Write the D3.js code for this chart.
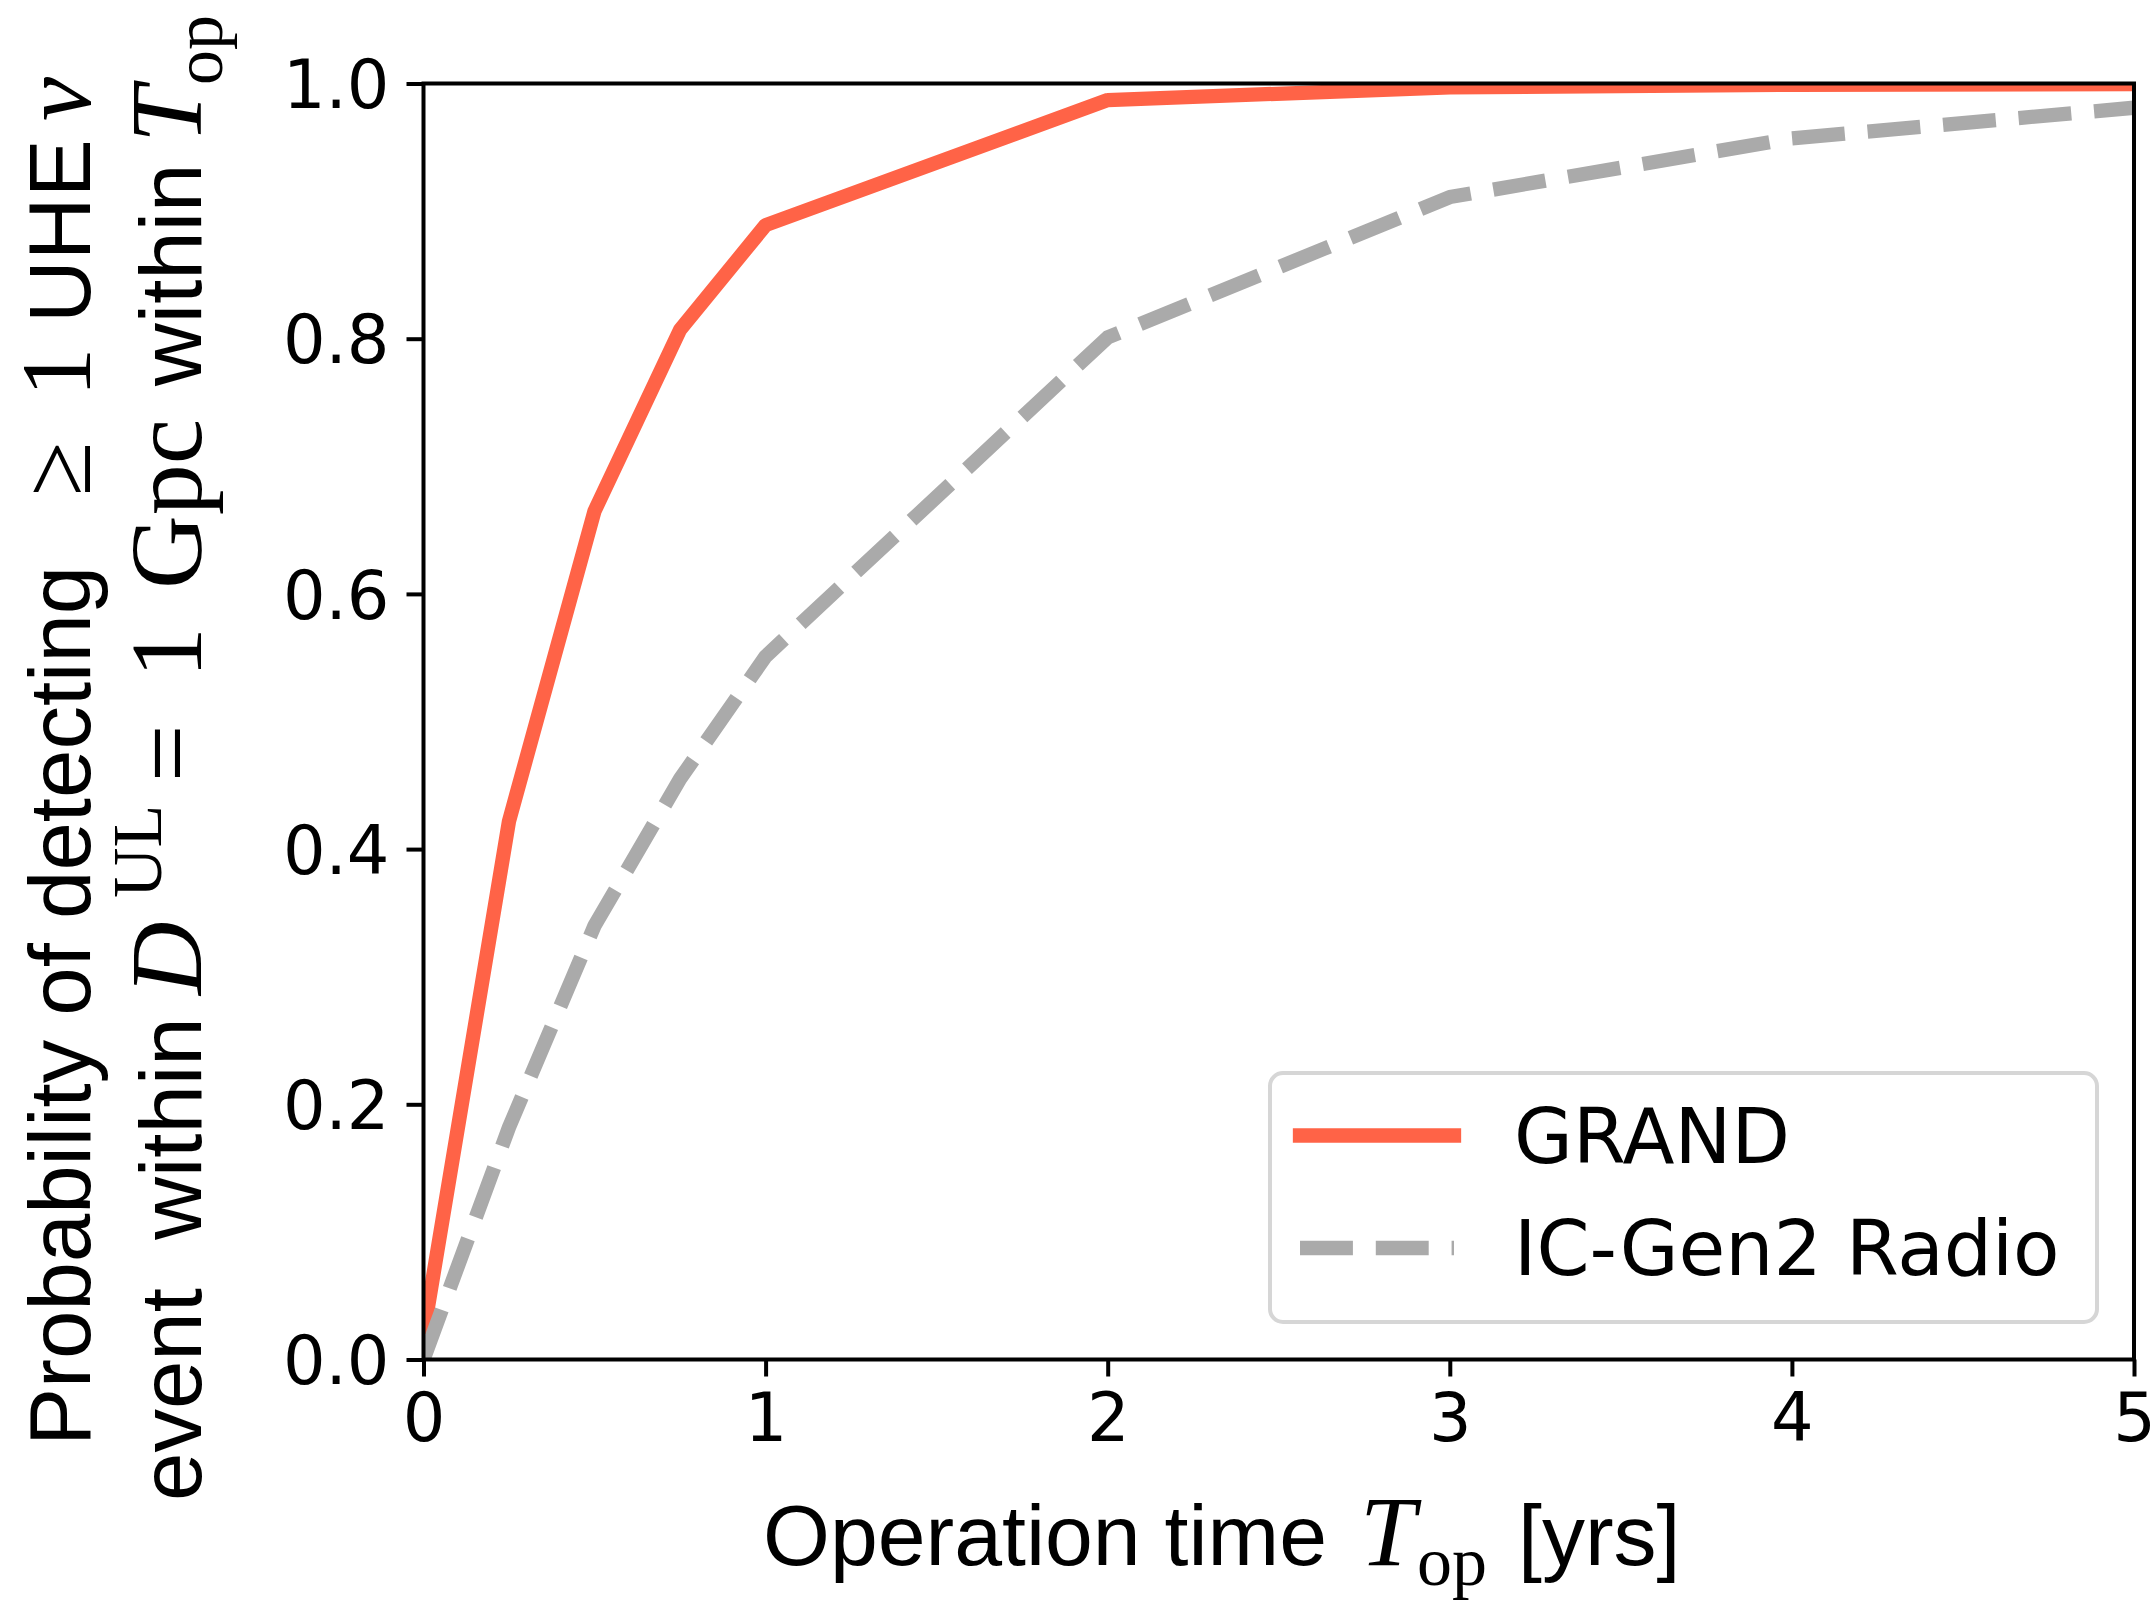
<!DOCTYPE html>
<html>
<head>
<meta charset="utf-8">
<script src="https://cdn.jsdelivr.net/npm/d3@7"></script>
<style>
  body { margin: 0; background: #fff; }
  text { fill: #000; white-space: pre; }
</style>
</head>
<body>
<div id="canvas"></div>
<script>
// operation time [yrs]
const years = [0, 0.25, 0.5, 0.75, 1, 2, 3, 4, 5];
// probability of >= 1 detection
const grand = [0.02, 0.422, 0.665, 0.807, 0.889, 0.987, 0.997, 0.999, 0.9995];
const icGen2 = [0, 0.182, 0.34, 0.455, 0.551, 0.801, 0.911, 0.957, 0.981];
const xTicks = [0, 1, 2, 3, 4, 5];
const yTicks = [0.0, 0.2, 0.4, 0.6, 0.8, 1.0];
const seriesNames = ["GRAND", "IC-Gen2 Radio"];

const width = 2156;
const height = 1602;
const margin = { top: 83.5, left: 423.5, bottom: 242.5, right: 22 };
const iwidth = width - margin.left - margin.right;
const iheight = height - margin.top - margin.bottom;

const sans = "'Liberation Sans', Arial, sans-serif";
const serif = "'Liberation Serif', 'Times New Roman', serif";
const tickFont = "'DejaVu Sans', sans-serif";
const lw = 14.3;

const svg = d3.select("#canvas").append("svg")
  .attr("width", width)
  .attr("height", height);

svg.append("defs").append("clipPath").attr("id", "plotclip")
  .append("rect").attr("width", iwidth).attr("height", iheight);

const g = svg.append("g").attr("transform", `translate(${margin.left},${margin.top})`);

const x = d3.scaleLinear().domain([0, 5]).range([0, iwidth]);
const y = d3.scaleLinear().domain([0, 1]).range([iheight, 0]);

const line = d3.line().x((d) => x(d[0])).y((d) => y(d[1]));

const plot = g.append("g").attr("clip-path", "url(#plotclip)");

plot.append("path")
  .datum(years.map((t, i) => [t, grand[i]]))
  .attr("d", line)
  .attr("fill", "none")
  .attr("stroke", "#ff6347")
  .attr("stroke-width", lw)
  .attr("stroke-linejoin", "round");

plot.append("path")
  .datum(years.map((t, i) => [t, icGen2[i]]))
  .attr("d", line)
  .attr("fill", "none")
  .attr("stroke", "#aaaaaa")
  .attr("stroke-width", lw)
  .attr("stroke-dasharray", `${3.7 * lw},${1.6 * lw}`)
  .attr("stroke-linejoin", "round");

// axes
const xAxis = g.append("g")
  .attr("transform", `translate(0,${iheight})`)
  .call(d3.axisBottom(x).tickValues(xTicks).tickFormat(d3.format("d")).tickSize(17).tickPadding(14));
const yAxis = g.append("g")
  .call(d3.axisLeft(y).tickValues(yTicks).tickFormat(d3.format(".1f")).tickSize(17).tickPadding(17));

[xAxis, yAxis].forEach((a) => {
  a.select(".domain").remove();
  a.selectAll(".tick line").attr("stroke", "#000").attr("stroke-width", 4);
  a.selectAll(".tick text").attr("font-family", tickFont).attr("font-size", 67).attr("fill", "#000");
});
xAxis.selectAll(".tick text").attr("dy", "0.76em");
yAxis.selectAll(".tick text").attr("dy", "0.36em");

g.append("rect")
  .attr("width", iwidth)
  .attr("height", iheight)
  .attr("fill", "none")
  .attr("stroke", "#000")
  .attr("stroke-width", 4);

// legend
const leg = svg.append("g").attr("transform", "translate(1270,1073)");
leg.append("rect")
  .attr("width", 827)
  .attr("height", 249)
  .attr("rx", 13)
  .attr("fill", "rgba(255,255,255,0.8)")
  .attr("stroke", "#d6d6d6")
  .attr("stroke-width", 4);
leg.append("line")
  .attr("x1", 30).attr("x2", 184).attr("y1", 62.5).attr("y2", 62.5)
  .attr("stroke", "#ff6347").attr("stroke-width", lw).attr("stroke-linecap", "square");
leg.append("line")
  .attr("x1", 30).attr("x2", 184).attr("y1", 175).attr("y2", 175)
  .attr("stroke", "#aaaaaa").attr("stroke-width", lw)
  .attr("stroke-dasharray", `${3.7 * lw},${1.6 * lw}`);
leg.selectAll("text.lab").data(seriesNames).enter().append("text")
  .attr("class", "lab")
  .attr("x", 244)
  .attr("y", (d, i) => 90 + i * 112)
  .attr("font-family", tickFont)
  .attr("font-size", 76)
  .text((d) => d);

// label pieces: [text, start, font, size, italic, baseline shift]
function addPieces(sel, pieces, baseline, rotated) {
  pieces.forEach((p) => {
    const t = sel.append("tspan")
      .attr("font-family", p[2] === "serif" ? serif : sans)
      .attr("font-size", p[3])
      .attr("font-style", p[4] ? "italic" : "normal")
      .text(p[0]);
    if (rotated) t.attr("x", -p[1]).attr("y", baseline + p[5]);
    else t.attr("x", p[1]).attr("y", baseline + p[5]);
  });
}

// x label
const xl = svg.append("text");
addPieces(xl, [
  ["Operation time", 763, "sans", 86, false, 0],
  ["T", 1360, "serif", 100, true, 0],
  ["op", 1417, "serif", 70, false, 20],
  ["[yrs]", 1518, "sans", 86, false, 0]
], 1565, false);

// y label, two lines (rotated; start = page y of the lower end)
const yl = svg.append("text").attr("transform", "rotate(-90)");
addPieces(yl, [
  ["Probability of detecting", 1446, "sans", 87, false, 0],
  ["≥", 496, "serif", 99, false, 0],
  ["1", 397, "serif", 99, false, 0],
  ["UHE", 323, "sans", 87, false, 0],
  ["ν", 121, "serif", 99, true, 0]
], 90, true);
addPieces(yl, [
  ["event  within", 1501, "sans", 87, false, 0],
  ["D", 995, "serif", 102, true, 0],
  ["UL", 898, "serif", 70, false, -40],
  ["=", 782, "serif", 102, false, 0],
  ["1", 678, "serif", 102, false, 0],
  ["Gpc", 589, "serif", 102, false, 0],
  ["within", 386, "sans", 87, false, 0],
  ["T", 143, "serif", 102, true, 0],
  ["op", 85, "serif", 70, false, 21]
], 201, true);
</script>
</body>
</html>
